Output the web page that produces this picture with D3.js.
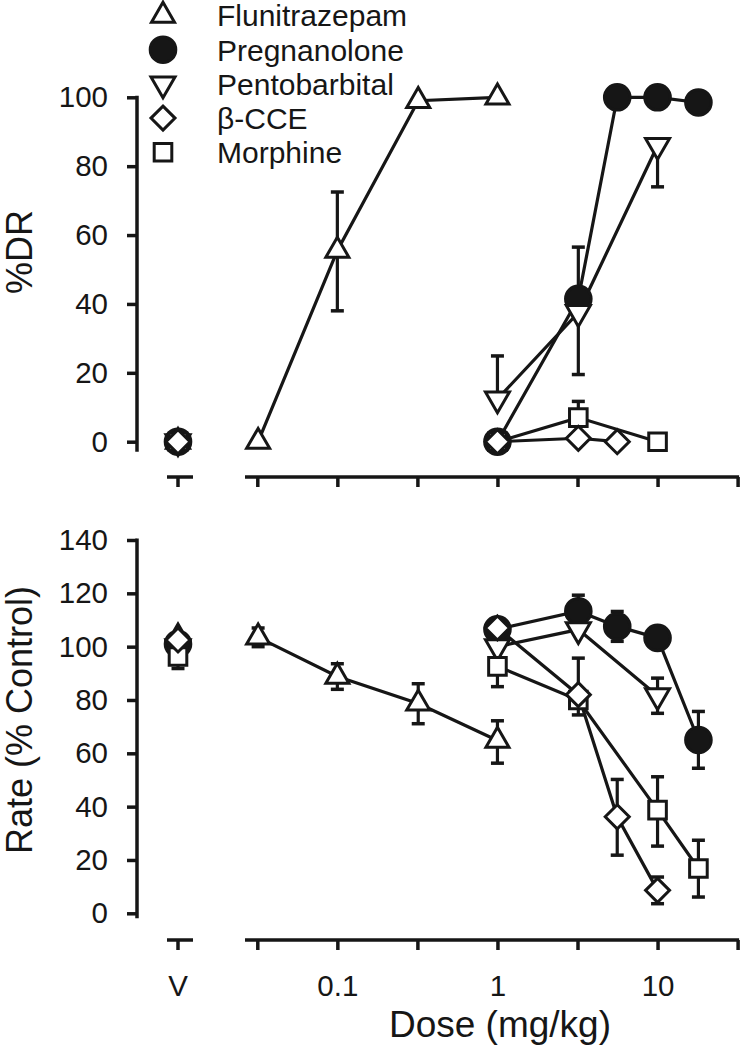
<!DOCTYPE html>
<html><head><meta charset="utf-8">
<script src="https://cdn.jsdelivr.net/npm/d3@7"></script>
<style>
html,body{margin:0;padding:0;background:#fff;}
svg{display:block;font-family:"Liberation Sans",Arial,Helvetica,sans-serif;}
</style></head>
<body>
<svg id="c" width="740" height="1046"></svg>
<script>
// ---- data ----
const seriesNames = ["Flunitrazepam","Pregnanolone","Pentobarbital","β-CCE","Morphine"];
const seriesSymbols = ["triUp","circle","triDown","diamond","square"];
// doses ("V" = vehicle)
const fluDose  = ["V",0.032,0.1,0.32,1];
const pregDose = ["V",1,3.2,5.6,10,18];
const pentDose = ["V",1,3.2,10];
const cceDoseTop = ["V",1,3.2,5.6];
const cceDose  = ["V",1,3.2,5.6,10];
const morDose  = ["V",1,3.2,10];
const morDoseRate = ["V",1,3.2,10,18];
// %DR (top panel) means, SEM up, SEM down
const fluDR = [0,0,55.5,99,100];      const fluDRup = [0,0,17,0,0];     const fluDRdn = [0,0,17.5,0,0];
const pregDR = [0,0,41.5,100,100,98.5]; const pregDRup = [0,0,15,0,0,0]; const pregDRdn = [0,0,0,0,0,0];
const pentDR = [0,12.4,37.5,86];      const pentDRup = [0,12.5,0,0];   const pentDRdn = [0,0,18,12];
const cceDR = [0,0,1,0];              const cceDRup = [0,0,0,0];       const cceDRdn = [0,0,0,0];
const morDR = [0,0,7,0];              const morDRup = [0,0,4.7,0];     const morDRdn = [0,0,0,0];
// Rate (% Control) (bottom panel)
const fluRate = [103.5,103.5,88.8,78.7,64.8];   const fluRateUp = [0,3.5,4.8,7.4,7.4];   const fluRateDn = [0,3.5,4.8,7.6,8.5];
const pregRate = [101,106.5,113.3,107.6,103.3,65]; const pregRateUp = [0,0,6,5.6,0,10.7]; const pregRateDn = [0,0,0,5.6,0,10.6];
const pentRate = [100,100,106.4,81.6];          const pentRateUp = [0,0,0,6.6];          const pentRateDn = [0,0,0,6.6];
const cceRate = [102.5,107,82,36.2,8.6];        const cceRateUp = [0,0,13.7,14,5];       const cceRateDn = [0,0,0,14.4,5];
const morRate = [96.3,92.6,80,38.7,16.8];       const morRateUp = [0,0,0,12.5,10.6];     const morRateDn = [4.5,7.6,5.6,13.5,10.7];
// ticks
const doseTicks = [0.0316228,0.1,0.316228,1,3.16228,10,31.6228];
const doseTickLabels = {"0.1":"0.1","1":"1","10":"10"};
const drTicks = [0,20,40,60,80,100];
const rateTicks = [0,20,40,60,80,100,120,140];

// ---- layout ----
const svg = d3.select("#c");
const ink = "#161616";
const tickFont = "29.5px";
const xLog = d3.scaleLog().domain([Math.pow(10,-1.5),Math.pow(10,1.5)]).range([257.3,737.6]);
const xV = 178;
const xOf = d => d === "V" ? xV : xLog(d);
const yTop = d3.scaleLinear().domain([0,100]).range([441.7,97.3]);
const yBot = d3.scaleLinear().domain([0,140]).range([913.3,540]);

function symPath(type){
  if(type==="triUp"){const a=23,h=a*Math.sqrt(3)/2;return `M0,${-2*h/3}L${a/2},${h/3}L${-a/2},${h/3}Z`;}
  if(type==="triDown"){const a=24,h=a*Math.sqrt(3)/2;return `M0,${2*h/3}L${a/2},${-h/3}L${-a/2},${-h/3}Z`;}
  if(type==="diamond"){const r=12;return `M0,${-r}L${r},0L0,${r}L${-r},0Z`;}
  if(type==="square"){const r=8.8;return `M${-r},${-r}H${r}V${r}H${-r}Z`;}
  return d3.symbol(d3.symbolCircle, Math.PI*12.8*12.8)();
}
function drawMarker(g,type,x,y){
  const p = g.append("path").attr("d",symPath(type)).attr("transform",`translate(${x},${y})`)
    .attr("stroke",ink).attr("stroke-width",3).attr("stroke-linejoin","miter");
  p.attr("fill", type==="circle" ? ink : "#fff");
}

function drawYAxis(y,ticks,extendBelow){
  const g = svg.append("g").attr("transform","translate(137,0)")
    .call(d3.axisLeft(y).tickValues(ticks).tickSize(10).tickPadding(19).tickSizeOuter(0));
  g.select(".domain").remove();
  g.selectAll(".tick line").attr("stroke",ink).attr("stroke-width",3.5);
  g.selectAll(".tick text").attr("fill",ink).style("font-size",tickFont).style("font-family","'Liberation Sans',Arial,sans-serif");
  const r = y.range();
  g.append("line").attr("x1",0).attr("x2",0).attr("y1",r[1]-1.5).attr("y2",r[0]+extendBelow)
    .attr("stroke",ink).attr("stroke-width",3.5);
}
function drawXAxis(yPos,withLabels){
  const g = svg.append("g").attr("transform",`translate(0,${yPos})`)
    .call(d3.axisBottom(xLog).tickValues(doseTicks).tickSize(10).tickPadding(25).tickSizeOuter(0)
      .tickFormat(d => withLabels ? (doseTickLabels[String(+d.toPrecision(3))]||"") : ""));
  g.select(".domain").remove();
  g.selectAll(".tick line").attr("stroke",ink).attr("stroke-width",3.5);
  g.selectAll(".tick text").attr("fill",ink).style("font-size",tickFont).style("font-family","'Liberation Sans',Arial,sans-serif");
  g.append("line").attr("x1",245).attr("x2",xLog.range()[1]+1.5).attr("y1",0).attr("y2",0)
    .attr("stroke",ink).attr("stroke-width",3.5);
  // vehicle segment
  g.append("line").attr("x1",xV-11).attr("x2",xV+15).attr("y1",0).attr("y2",0).attr("stroke",ink).attr("stroke-width",3.5);
  g.append("line").attr("x1",xV).attr("x2",xV).attr("y1",0).attr("y2",10).attr("stroke",ink).attr("stroke-width",3.5);
  if(withLabels){
    g.append("text").attr("x",xV).attr("y",10+25).attr("dy","0.71em").attr("text-anchor","middle")
      .attr("fill",ink).style("font-size",tickFont).text("V");
  }
}

function drawPanel(y, series){
  const gl = svg.append("g");
  series.forEach(s=>{
    const pts = s.dose.map((d,i)=>({d, v:s.val[i]}));
    const linePts = pts.filter(p=>p.d!=="V");
    gl.append("path").datum(linePts)
      .attr("d", d3.line().x(p=>xOf(p.d)).y(p=>y(p.v)))
      .attr("fill","none").attr("stroke",ink).attr("stroke-width",3.2);
  });
  series.forEach(s=>{
    const g = svg.append("g");
    s.dose.forEach((d,i)=>{
      const x = xOf(d), v = s.val[i];
      const ends = [];
      if(s.up[i]>0) ends.push(v+s.up[i]);
      if(s.dn[i]>0) ends.push(v-s.dn[i]);
      ends.forEach(e=>{
        g.append("line").attr("x1",x).attr("x2",x).attr("y1",y(v)).attr("y2",y(e)).attr("stroke",ink).attr("stroke-width",3.2);
        g.append("line").attr("x1",x-6.5).attr("x2",x+6.5).attr("y1",y(e)).attr("y2",y(e)).attr("stroke",ink).attr("stroke-width",3.5);
      });
    });
    s.dose.forEach((d,i)=> drawMarker(g, s.sym, xOf(d), y(s.val[i])));
  });
}

const topSeries = [
  {sym:"triUp", dose:fluDose, val:fluDR, up:fluDRup, dn:fluDRdn},
  {sym:"circle", dose:pregDose, val:pregDR, up:pregDRup, dn:pregDRdn},
  {sym:"triDown", dose:pentDose, val:pentDR, up:pentDRup, dn:pentDRdn},
  {sym:"square", dose:morDose, val:morDR, up:morDRup, dn:morDRdn},
  {sym:"diamond", dose:cceDoseTop, val:cceDR, up:cceDRup, dn:cceDRdn}
];
const botSeries = [
  {sym:"triUp", dose:fluDose, val:fluRate, up:fluRateUp, dn:fluRateDn},
  {sym:"circle", dose:pregDose, val:pregRate, up:pregRateUp, dn:pregRateDn},
  {sym:"triDown", dose:pentDose, val:pentRate, up:pentRateUp, dn:pentRateDn},
  {sym:"square", dose:morDoseRate, val:morRate, up:morRateUp, dn:morRateDn},
  {sym:"diamond", dose:cceDose, val:cceRate, up:cceRateUp, dn:cceRateDn}
];

drawYAxis(yTop, drTicks, 10);
drawXAxis(477, false);
drawPanel(yTop, topSeries);

drawYAxis(yBot, rateTicks, 5);
drawXAxis(940, true);
drawPanel(yBot, botSeries);

// axis titles
svg.append("text").attr("transform","translate(32,252) rotate(-90)").attr("text-anchor","middle")
  .attr("fill",ink).style("font-size","36px").text("%DR");
svg.append("text").attr("transform","translate(32,720) rotate(-90)").attr("text-anchor","middle")
  .attr("fill",ink).style("font-size","36px").text("Rate (% Control)");
svg.append("text").attr("x",500).attr("y",1037).attr("text-anchor","middle")
  .attr("fill",ink).style("font-size","37px").text("Dose (mg/kg)");

// legend
const lg = svg.append("g");
seriesNames.forEach((n,i)=>{
  const ly = 15.5 + i*34.2;
  drawMarker(lg, seriesSymbols[i], 163, ly);
  lg.append("text").attr("x",217).attr("y",ly).attr("dy","0.36em").attr("fill",ink)
    .style("font-size","30px").text(n);
});
</script>
</body></html>
